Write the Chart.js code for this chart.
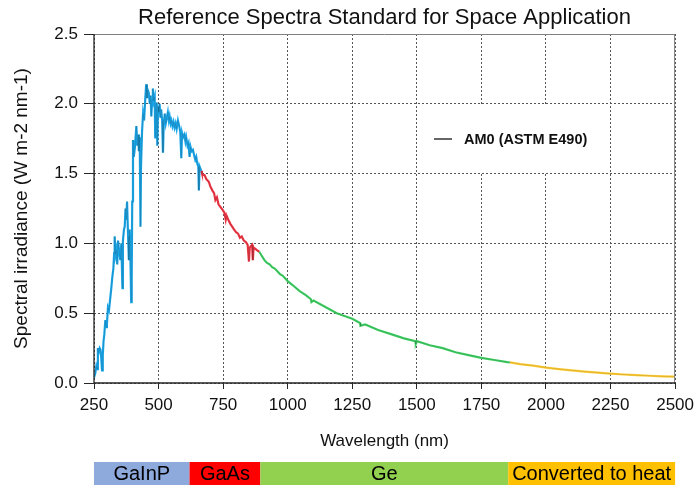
<!DOCTYPE html>
<html>
<head>
<meta charset="utf-8">
<script src="https://cdn.jsdelivr.net/npm/chart.js@4.4.1/dist/chart.umd.min.js"></script>
<style>
html,body{margin:0;padding:0;background:#fff;}
#wrap{width:700px;height:488px;position:relative;}
</style>
</head>
<body>
<div id="wrap"><canvas id="c" width="700" height="488"></canvas></div>
<script>
// ---- Data ----
const wavelengths = [
 250,255,259,262,265,268,272,275,278,281,284,287,290,294,297,300,304,308,313,317,
 321,325,328,330,333,336,340,343,347,352,356,360,362,366,369,372,375,378,382,385,
 388,391,394,396,398,401,404,408,411,414,418,421,424,427,430,432,436,440,444,448,
 452,455,458,462,466,469,472,475,478,481,485,487,490,493,495,498,501,504,507,510,
 514,517,520,524,528,532,536,540,543,547,550,554,558,562,566,570,575,580,584,588,
 591,595,600,604,607,612,616,620,624,628,633,638,642,646,650,654,656,659,663,665,
 668,672,678,685,690,695,700,708,715,720,726,732,740,748,755,760,763,770,778,785,
 792,800,808,815,822,830,838,845,850,853,857,862,865,868,875,882,890,900,910,920,
 930,940,950,960,970,980,990,1000,1020,1045,1070,1090,1092,1100,1130,1160,1190,1220,1250,1280,
 1282,1300,1350,1400,1450,1494,1496,1500,1550,1600,1650,1700,1750,1800,1850,1860,1900,1950,2000,2050,
 2100,2150,2200,2250,2300,2350,2400,2450,2500
];
const irradiance = [
 0.04,0.07,0.12,0.10,0.25,0.22,0.25,0.24,0.18,0.09,0.20,0.30,0.35,0.45,0.40,0.42,0.54,0.52,0.61,0.68,
 0.76,0.82,0.93,1.05,0.92,0.95,0.85,1.02,0.95,0.88,1.00,0.68,1.02,1.10,1.12,1.25,1.17,1.30,1.05,0.88,
 1.10,0.90,0.58,0.75,1.30,1.74,1.62,1.68,1.76,1.84,1.70,1.78,1.66,1.76,1.12,1.55,1.80,1.93,1.88,2.02,
 2.14,2.04,2.10,2.08,2.00,2.06,1.91,2.03,2.11,2.02,2.05,1.76,1.98,2.01,1.70,1.98,1.94,2.00,1.90,1.96,
 1.88,1.65,1.85,1.93,1.86,1.90,1.94,1.88,1.91,1.86,1.88,1.84,1.87,1.83,1.86,1.82,1.88,1.84,1.80,1.61,
 1.79,1.76,1.78,1.73,1.76,1.70,1.72,1.62,1.69,1.66,1.67,1.63,1.60,1.62,1.57,1.55,1.38,1.55,1.53,1.52,
 1.50,1.49,1.49,1.46,1.45,1.44,1.41,1.38,1.36,1.31,1.33,1.28,1.26,1.24,1.22,1.17,1.20,1.17,1.14,1.12,
 1.10,1.08,1.07,1.04,1.05,1.02,1.01,0.99,0.87,0.97,0.98,0.99,0.88,0.97,0.96,0.95,0.94,0.91,0.88,0.86,
 0.85,0.83,0.82,0.80,0.78,0.77,0.75,0.73,0.70,0.66,0.63,0.60,0.58,0.59,0.56,0.53,0.50,0.48,0.46,0.43,
 0.41,0.42,0.38,0.35,0.32,0.30,0.28,0.30,0.27,0.25,0.22,0.20,0.18,0.165,0.15,0.148,0.135,0.125,0.11,0.10,
 0.09,0.082,0.074,0.067,0.061,0.056,0.052,0.048,0.045
];
const seriesName = 'AM0 (ASTM E490)';
const segmentEdges = [250, 665, 890, 1860, 2500];
const bandNames = ['GaInP', 'GaAs', 'Ge', 'Converted to heat'];
const bandEdges = [250, 620, 894, 1854, 2500];
const xTickValues = [250, 500, 750, 1000, 1250, 1500, 1750, 2000, 2250, 2500];
const yTickValues = [0.0, 0.5, 1.0, 1.5, 2.0, 2.5];

// ---- Styles ----
const segColors = ['#1AA7EA', '#EE3644', '#3ECF62', '#FFCC33'];
const bandColors = ['#8EA9DB', '#FF0000', '#92D050', '#FFC000'];
const FONT = '"Liberation Sans", Arial, sans-serif';

const pts = wavelengths.map((w, i) => ({ x: w, y: irradiance[i] }));
const segDatasets = segColors.map((col, k) => ({
  label: 'seg' + k,
  data: pts.filter(p => p.x >= segmentEdges[k] && p.x <= segmentEdges[k + 1]),
  borderColor: col,
  borderWidth: 2.2,
  pointRadius: 0,
  tension: 0,
  fill: false,
  order: 1
}));

const decor = {
  id: 'decor',
  beforeDatasetsDraw(chart) {
    const ctx = chart.ctx;
    // legend box background (covers grid lines)
    ctx.save();
    ctx.fillStyle = '#fff';
    ctx.fillRect(425, 105, 180, 68);
    ctx.restore();
  },
  afterDraw(chart) {
    const ctx = chart.ctx, a = chart.chartArea, xs = chart.scales.x;
    ctx.save();
    // frame
    ctx.setLineDash([]);
    ctx.strokeStyle = '#7f7f7f';
    ctx.lineWidth = 1;
    ctx.beginPath();
    ctx.moveTo(a.left, a.top + 0.5); ctx.lineTo(a.right, a.top + 0.5);
    ctx.moveTo(a.right - 0.5, a.top); ctx.lineTo(a.right - 0.5, a.bottom);
    ctx.stroke();
    ctx.strokeStyle = '#262626';
    ctx.lineWidth = 1.3;
    ctx.beginPath();
    ctx.moveTo(a.left, a.top); ctx.lineTo(a.left, a.bottom);
    ctx.lineTo(a.right, a.bottom);
    ctx.stroke();
    // title
    ctx.fillStyle = '#111';
    ctx.textAlign = 'center';
    ctx.textBaseline = 'middle';
    ctx.font = '22px ' + FONT;
    ctx.fillText('Reference Spectra Standard for Space Application', (a.left + a.right) / 2, 18);
    // x title
    ctx.font = '17px ' + FONT;
    ctx.fillText('Wavelength (nm)', (a.left + a.right) / 2, 441);
    // y title
    ctx.save();
    ctx.translate(22, (a.top + a.bottom) / 2);
    ctx.rotate(-Math.PI / 2);
    ctx.font = '19px ' + FONT;
    ctx.fillText('Spectral irradiance (W m-2 nm-1)', 0, 0);
    ctx.restore();
    // legend
    ctx.strokeStyle = '#333';
    ctx.lineWidth = 1.5;
    ctx.beginPath();
    ctx.moveTo(434, 139); ctx.lineTo(452, 139);
    ctx.stroke();
    ctx.font = 'bold 14.5px ' + FONT;
    ctx.textAlign = 'left';
    ctx.fillText(seriesName, 464, 140);
    // bands
    const top = 462, h = 23;
    for (let i = 0; i < bandNames.length; i++) {
      const x0 = xs.getPixelForValue(bandEdges[i]);
      const x1 = xs.getPixelForValue(bandEdges[i + 1]);
      ctx.fillStyle = bandColors[i];
      ctx.fillRect(x0, top, x1 - x0, h);
      ctx.fillStyle = '#000';
      ctx.textAlign = 'center';
      ctx.font = '20px ' + FONT;
      ctx.fillText(bandNames[i], (x0 + x1) / 2, top + h / 2 + 1);
    }
    ctx.restore();
  }
};

new Chart(document.getElementById('c'), {
  type: 'line',
  data: {
    datasets: [{
      label: seriesName,
      data: pts,
      borderColor: 'rgba(30,30,30,0.18)',
      borderWidth: 0.8,
      pointRadius: 0,
      tension: 0,
      fill: false,
      order: 0
    }].concat(segDatasets)
  },
  options: {
    responsive: false,
    animation: false,
    events: [],
    layout: { padding: { left: 0, right: 23, top: 34, bottom: 0 } },
    plugins: { legend: { display: false }, tooltip: { enabled: false }, title: { display: false } },
    scales: {
      x: {
        type: 'linear', min: 250, max: 2500,
        afterFit(s) { s.height = 105; },
        afterBuildTicks(s) { s.ticks = xTickValues.map(v => ({ value: v })); },
        ticks: { color: '#111', font: { family: FONT, size: 17 }, padding: 6, maxRotation: 0, autoSkip: false,
          callback: v => String(v) },
        grid: { color: '#555', lineWidth: 1, tickLength: 6, tickColor: '#262626', tickBorderDash: [] },
        border: { display: false, dash: [2, 2] }
      },
      y: {
        type: 'linear', min: 0, max: 2.5,
        afterFit(s) { s.width = 94; },
        afterBuildTicks(s) { s.ticks = yTickValues.map(v => ({ value: v })); },
        ticks: { color: '#111', font: { family: FONT, size: 17 }, padding: 6,
          callback: v => Number(v).toFixed(1) },
        grid: { color: '#555', lineWidth: 1, tickLength: 10, tickColor: '#262626', tickBorderDash: [] },
        border: { display: false, dash: [2, 2] }
      }
    }
  },
  plugins: [decor]
});
</script>
</body>
</html>
